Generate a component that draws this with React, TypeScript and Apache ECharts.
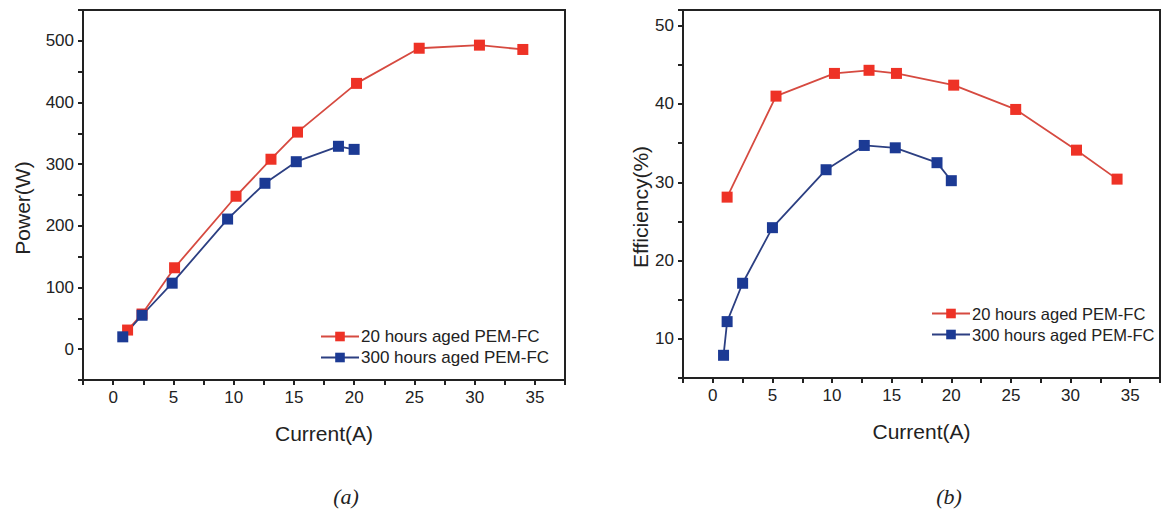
import React, { useEffect, useRef } from "react";
import * as echarts from "echarts";

const SERIES_A = "20 hours aged PEM-FC";
const SERIES_B = "300 hours aged PEM-FC";

// (a) Power vs Current
const powerRedI = [1.2, 2.4, 5.1, 10.2, 13.1, 15.3, 20.2, 25.4, 30.4, 34.0];
const powerRedP = [31, 57, 132, 248, 308, 352, 431, 488, 493, 486];
const powerBlueI = [0.8, 2.4, 4.9, 9.5, 12.6, 15.2, 18.7, 20.0];
const powerBlueP = [20, 55, 107, 211, 269, 304, 329, 324];

// (b) Efficiency vs Current
const effRedI = [1.2, 5.3, 10.2, 13.1, 15.4, 20.2, 25.4, 30.5, 33.9];
const effRedE = [28.1, 41.0, 43.9, 44.3, 43.9, 42.4, 39.3, 34.1, 30.4];
const effBlueI = [0.9, 1.2, 2.5, 5.0, 9.5, 12.7, 15.3, 18.8, 20.0];
const effBlueE = [7.9, 12.2, 17.1, 24.2, 31.6, 34.7, 34.4, 32.5, 30.2];

const xTickLabels = [0, 5, 10, 15, 20, 25, 30, 35];
const powerTickLabels = [0, 100, 200, 300, 400, 500];
const effTickLabels = [10, 20, 30, 40, 50];

const captions = ["(a)", "(b)"];

const FONT = "'Liberation Sans', Arial, sans-serif";
const INK = "#222";
const RED_M = "#ee3226";
const RED_L = "#d64a40";
const BLUE_M = "#1c3a94";
const BLUE_L = "#2c3f82";

const zip = (a: number[], b: number[]) => a.map((v, i) => [v, b[i]]);
const near = (v: number, list: number[]) => list.some((t) => Math.abs(t - v) < 1e-6);

function xAxis(gridIndex: number) {
  return {
    type: "value",
    gridIndex,
    min: -2.5,
    max: 37.5,
    interval: 2.5,
    name: "Current(A)",
    nameLocation: "middle",
    nameGap: 43,
    nameTextStyle: { fontFamily: FONT, fontSize: 21, color: INK },
    axisLine: { show: true, onZero: false, lineStyle: { color: INK, width: 2 } },
    axisTick: { show: true, inside: false, length: 5, lineStyle: { color: INK, width: 2 } },
    axisLabel: {
      fontFamily: FONT,
      fontSize: 17,
      color: INK,
      margin: 9,
      formatter: (v: number) => (near(v, xTickLabels) ? String(Math.round(v)) : ""),
    },
    splitLine: { show: false },
  };
}

function yAxis(gridIndex: number, name: string, min: number, max: number, interval: number, labels: number[], gap: number) {
  return {
    type: "value",
    gridIndex,
    min,
    max,
    interval,
    name,
    nameLocation: "middle",
    nameGap: gap,
    nameTextStyle: { fontFamily: FONT, fontSize: 21, color: INK, padding: [0, 26, 0, 0] },
    axisLine: { show: true, onZero: false, lineStyle: { color: INK, width: 2 } },
    axisTick: { show: true, inside: false, length: 5, lineStyle: { color: INK, width: 2 } },
    axisLabel: {
      fontFamily: FONT,
      fontSize: 17,
      color: INK,
      margin: 9,
      formatter: (v: number) => (near(v, labels) ? String(Math.round(v)) : ""),
    },
    splitLine: { show: false },
  };
}

function lineSeries(name: string, xi: number, data: number[][], marker: string, line: string) {
  return {
    type: "line",
    name,
    xAxisIndex: xi,
    yAxisIndex: xi,
    data,
    symbol: "rect",
    symbolSize: 11,
    showSymbol: true,
    lineStyle: { color: line, width: 1.8 },
    itemStyle: { color: marker },
    z: 3,
  };
}

function legend(left: number, top: number, fontSize: number) {
  return {
    orient: "vertical",
    left,
    top,
    padding: 0,
    itemWidth: 38,
    itemHeight: 12,
    itemGap: 4,
    data: [SERIES_A, SERIES_B],
    textStyle: { fontFamily: FONT, fontSize, color: INK, padding: [0, 0, 0, -3] },
  };
}

export default function App() {
  const ref = useRef<HTMLDivElement>(null);
  useEffect(() => {
    if (!ref.current) return;
    const chart = echarts.init(ref.current, undefined, { renderer: "svg" });
    chart.setOption({
      animation: false,
      backgroundColor: "#fff",
      grid: [
        { left: 83, top: 10, width: 482, height: 370, show: true, borderColor: INK, borderWidth: 2, backgroundColor: "transparent" },
        { left: 683, top: 10, width: 477, height: 368, show: true, borderColor: INK, borderWidth: 2, backgroundColor: "transparent" },
      ],
      xAxis: [xAxis(0), xAxis(1)],
      yAxis: [
        yAxis(0, "Power(W)", -50, 550, 50, powerTickLabels, 50),
        yAxis(1, "Efficiency(%)", 5, 52, 5, effTickLabels, 32),
      ],
      legend: [legend(320, 328, 17), legend(931, 305, 16.5)],
      series: [
        lineSeries(SERIES_A, 0, zip(powerRedI, powerRedP), RED_M, RED_L),
        lineSeries(SERIES_B, 0, zip(powerBlueI, powerBlueP), BLUE_M, BLUE_L),
        lineSeries(SERIES_A, 1, zip(effRedI, effRedE), RED_M, RED_L),
        lineSeries(SERIES_B, 1, zip(effBlueI, effBlueE), BLUE_M, BLUE_L),
      ],
      graphic: [
        {
          type: "text",
          x: 346,
          y: 496,
          style: { text: captions[0], font: "italic 22px 'Liberation Serif', serif", fill: INK, align: "center", verticalAlign: "middle" },
        },
        {
          type: "text",
          x: 949,
          y: 496,
          style: { text: captions[1], font: "italic 22px 'Liberation Serif', serif", fill: INK, align: "center", verticalAlign: "middle" },
        },
      ],
    });
    return () => chart.dispose();
  }, []);
  return <div ref={ref} style={{ position: "fixed", left: 0, top: 0, width: 1176, height: 509 }} />;
}
